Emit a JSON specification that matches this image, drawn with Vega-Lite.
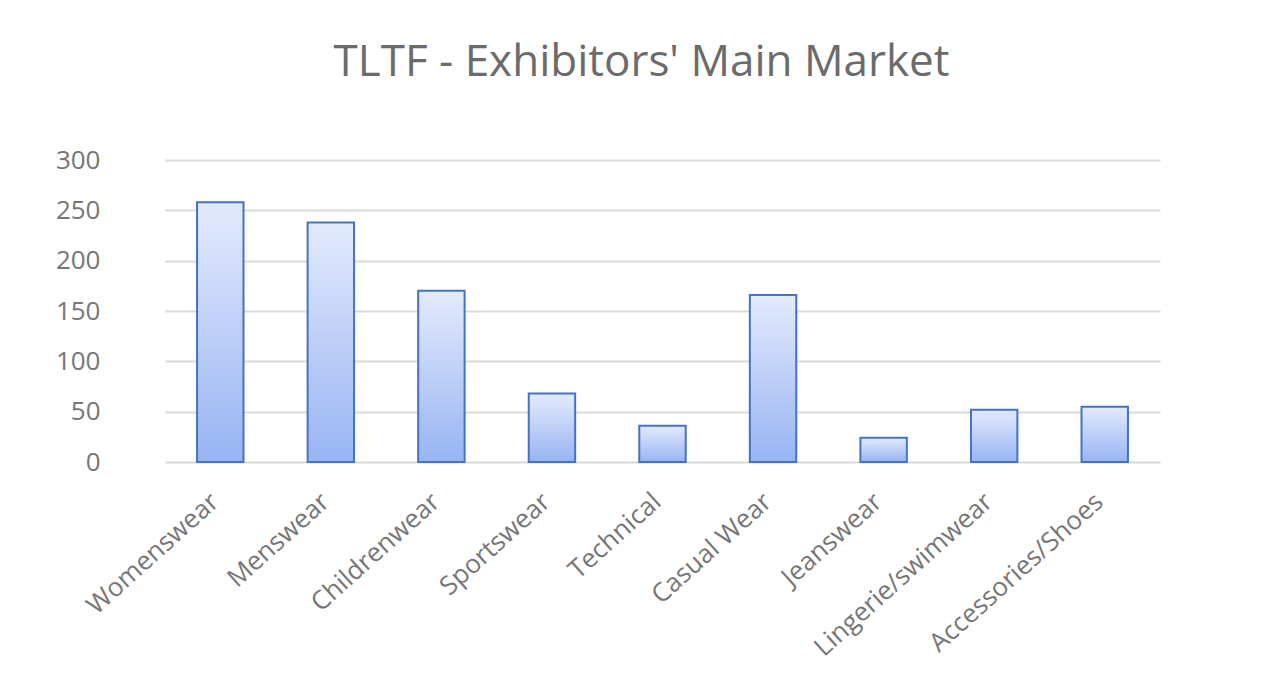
{
  "$schema": "https://vega.github.io/schema/vega-lite/v6.json",
  "autosize": {"type": "none"},
  "padding": {"left": 165, "top": 160, "right": 113, "bottom": 222},
  "width": 995,
  "height": 302,
  "background": "white",
  "title": {
    "text": "TLTF - Exhibitors' Main Market",
    "font": "Open Sans",
    "fontSize": 44,
    "fontWeight": "normal",
    "color": "#6b6b6b",
    "anchor": "middle",
    "dx": -21,
    "offset": 62
  },
  "data": {
    "values": [
      {"market": "Womenswear", "exhibitors": 258},
      {"market": "Menswear", "exhibitors": 238},
      {"market": "Childrenwear", "exhibitors": 170},
      {"market": "Sportswear", "exhibitors": 68},
      {"market": "Technical", "exhibitors": 36},
      {"market": "Casual Wear", "exhibitors": 166},
      {"market": "Jeanswear", "exhibitors": 24},
      {"market": "Lingerie/swimwear", "exhibitors": 52},
      {"market": "Accessories/Shoes", "exhibitors": 55}
    ]
  },
  "mark": {
    "type": "bar",
    "stroke": "#4472C4",
    "strokeWidth": 2,
    "color": {
      "gradient": "linear",
      "x1": 0, "y1": 0, "x2": 0, "y2": 1,
      "stops": [
        {"offset": 0, "color": "#e3eafc"},
        {"offset": 1, "color": "#98b4f3"}
      ]
    }
  },
  "encoding": {
    "x": {
      "field": "market",
      "type": "nominal",
      "sort": null,
      "title": null,
      "scale": {"paddingInner": 0.58, "paddingOuter": 0.29},
      "axis": {
        "labelAngle": -42,
        "labelFont": "Open Sans",
        "labelFontSize": 26,
        "labelColor": "#767676",
        "labelPadding": 26,
        "labelOffset": -14,
        "labelOverlap": false,
        "labelLimit": 300,
        "domain": false,
        "ticks": false,
        "grid": false
      }
    },
    "y": {
      "field": "exhibitors",
      "type": "quantitative",
      "title": null,
      "scale": {"domain": [0, 300]},
      "axis": {
        "values": [0, 50, 100, 150, 200, 250, 300],
        "labelFont": "Open Sans",
        "labelFontSize": 26,
        "labelColor": "#767676",
        "labelPadding": 65,
        "domain": false,
        "ticks": false,
        "grid": true,
        "gridColor": "#d9d9d9",
        "gridWidth": 2
      }
    }
  },
  "config": {
    "view": {"stroke": null}
  }
}
